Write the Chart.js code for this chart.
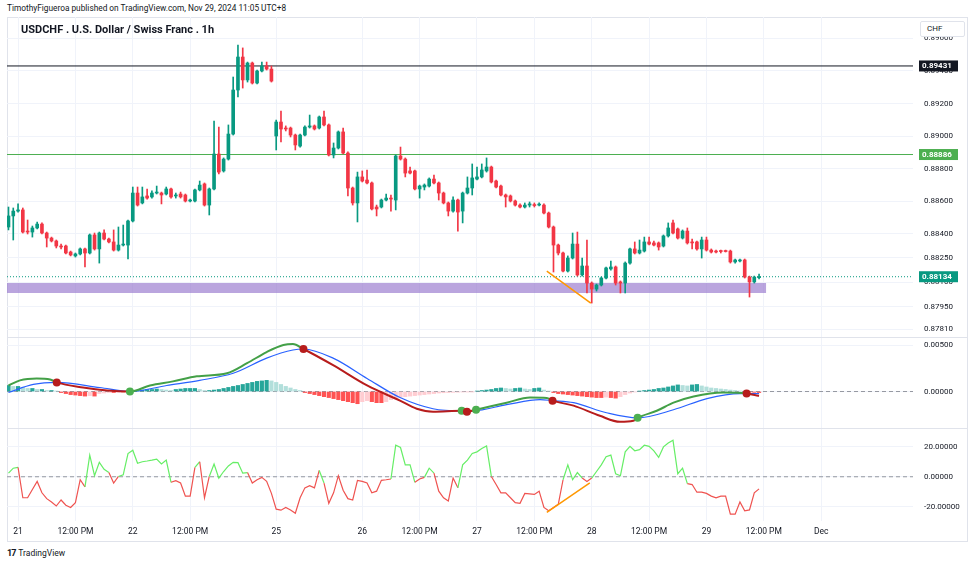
<!DOCTYPE html>
<html>
<head>
<meta charset="utf-8">
<script src="https://cdn.jsdelivr.net/npm/chart.js@4.4.0/dist/chart.umd.min.js"></script>
<style>
  body { margin: 0; background: #fff; width: 975px; height: 566px; position: relative; overflow: hidden;
         font-family: Roboto, "Noto Sans", sans-serif; color: #131722; }
  #pub { position: absolute; left: 7px; top: 3px; font-size: 8.3px; }
  #frame { position: absolute; left: 7px; top: 17px; width: 961px; height: 525px; border: 1px solid #e0e3eb; box-sizing: border-box; }
  .pane { position: absolute; left: 7px; width: 961px; }
  .sep { position: absolute; left: 7px; width: 961px; height: 1px; background: #e0e3eb; }
  #title { position: absolute; left: 21px; top: 23px; font-size: 11px; font-weight: bold; }
  #chf { position: absolute; left: 920px; top: 21px; width: 45px; height: 16px; border: 1px solid #e0e3eb; border-radius: 2px;
         background: #fff; box-sizing: border-box; font-size: 8px; line-height: 14px; padding-left: 6px; }
  #tv { position: absolute; left: 7px; top: 548px; font-size: 8.5px; }
  #tv b { font-size: 9px; letter-spacing: -1px; margin-right: 3px; }
</style>
</head>
<body>
<div id="pub">TimothyFigueroa published on TradingView.com, Nov 29, 2024 11:05 UTC+8</div>
<div id="frame"></div>
<div class="pane" style="top:17px;height:320px"><canvas id="main"></canvas></div>
<div class="pane" style="top:337px;height:91px"><canvas id="macd"></canvas></div>
<div class="pane" style="top:428px;height:113px"><canvas id="osc"></canvas></div>
<div class="sep" style="top:337px"></div>
<div class="sep" style="top:428px"></div>
<div id="title">USDCHF . U.S. Dollar / Swiss Franc . 1h</div>
<div id="chf">CHF</div>
<div id="tv"><b>17</b>TradingView</div>
<script>
// bar index 0 = Nov 20 22:00 (UTC+8), 1h bars, weekend skipped
const timeTickIdx = [2, 14, 26, 38, 56, 74, 86, 98, 110, 122, 134, 146, 158, 170];
const timeTickText = ['21', '12:00 PM', '22', '12:00 PM', '25', '26', '12:00 PM', '27', '12:00 PM', '28', '12:00 PM', '29', '12:00 PM', 'Dec'];
const priceTicks = [0.8781, 0.8795, 0.881, 0.8825, 0.884, 0.886, 0.888, 0.89, 0.892, 0.894, 0.896];
const macdTicks = [0, 0.005];
const oscTicks = [-20, 0, 20];

const opens = [0.88440,0.88508,0.88538,0.88545,0.88415,0.88409,0.88434,0.88458,0.88403,0.88372,
  0.88354,0.88323,0.88323,0.88286,0.88262,0.88274,0.88305,0.88280,0.88391,0.88305,
  0.88403,0.88366,0.88348,0.88298,0.88329,0.88329,0.88477,0.88649,0.88588,0.88631,
  0.88625,0.88649,0.88649,0.88643,0.88674,0.88631,0.88643,0.88637,0.88600,0.88600,
  0.88668,0.88705,0.88575,0.88674,0.88889,0.88785,0.88858,0.89012,0.89283,0.89486,
  0.89345,0.89449,0.89326,0.89400,0.89431,0.89412,
  0.89000,0.89086,0.89049,0.89049,0.89006,0.88938,0.89006,0.89055,0.89062,0.89049,
  0.89117,0.89068,0.88883,0.88926,0.89025,0.88895,0.88680,0.88588,0.88748,0.88729,
  0.88711,0.88563,0.88563,0.88606,0.88618,0.88606,0.88877,0.88858,0.88785,0.88785,
  0.88674,0.88686,0.88692,0.88735,0.88711,0.88649,0.88588,0.88538,0.88606,0.88538,
  0.88649,0.88680,0.88735,0.88748,0.88785,0.88809,0.88723,0.88692,0.88637,0.88631,
  0.88600,0.88575,0.88563,0.88575,0.88575,0.88575,0.88575,0.88526,0.88440,0.88329,
  0.88280,0.88169,0.88249,0.88335,0.88145,0.88200,0.88095,0.88058,0.88083,0.88126,
  0.88182,0.88194,0.88102,0.88095,0.88218,0.88305,0.88280,0.88292,0.88348,0.88342,
  0.88342,0.88323,0.88385,0.88465,0.88428,0.88372,0.88415,0.88348,0.88348,0.88305,
  0.88360,0.88298,0.88292,0.88292,0.88292,0.88292,0.88225,0.88231,0.88237,0.88132,
  0.88102,0.88128];
const highs = [0.88563,0.88557,0.88582,0.88557,0.88483,0.88446,0.88471,0.88465,0.88409,0.88378,
  0.88360,0.88335,0.88329,0.88292,0.88280,0.88311,0.88311,0.88397,0.88403,0.88409,
  0.88422,0.88372,0.88422,0.88440,0.88452,0.88483,0.88686,0.88686,0.88686,0.88674,
  0.88662,0.88692,0.88655,0.88686,0.88680,0.88649,0.88655,0.88643,0.88612,0.88674,
  0.88723,0.88711,0.88680,0.89092,0.89055,0.88865,0.89068,0.89363,0.89560,0.89542,
  0.89455,0.89455,0.89406,0.89455,0.89455,0.89431,
  0.89098,0.89154,0.89062,0.89055,0.89012,0.89012,0.89062,0.89129,0.89068,0.89123,
  0.89154,0.89074,0.88957,0.89031,0.89049,0.88902,0.88686,0.88778,0.88785,0.88791,
  0.88717,0.88575,0.88612,0.88643,0.88637,0.88883,0.88932,0.88865,0.88809,0.88791,
  0.88698,0.88705,0.88742,0.88760,0.88717,0.88655,0.88594,0.88625,0.88612,0.88655,
  0.88748,0.88828,0.88809,0.88828,0.88865,0.88815,0.88729,0.88698,0.88643,0.88637,
  0.88606,0.88582,0.88588,0.88594,0.88588,0.88588,0.88582,0.88532,0.88446,0.88335,
  0.88286,0.88262,0.88403,0.88409,0.88249,0.88360,0.88102,0.88089,0.88132,0.88194,
  0.88231,0.88200,0.88108,0.88225,0.88311,0.88348,0.88360,0.88378,0.88378,0.88354,
  0.88348,0.88391,0.88465,0.88483,0.88434,0.88422,0.88434,0.88366,0.88354,0.88378,
  0.88378,0.88305,0.88298,0.88298,0.88298,0.88298,0.88243,0.88243,0.88243,0.88138,
  0.88138,0.88151];
const lows = [0.88422,0.88360,0.88532,0.88403,0.88397,0.88378,0.88428,0.88397,0.88317,0.88348,
  0.88311,0.88305,0.88274,0.88262,0.88255,0.88268,0.88194,0.88274,0.88298,0.88218,
  0.88360,0.88342,0.88292,0.88292,0.88323,0.88243,0.88471,0.88569,0.88582,0.88612,
  0.88618,0.88643,0.88582,0.88637,0.88618,0.88618,0.88618,0.88594,0.88594,0.88594,
  0.88662,0.88569,0.88514,0.88668,0.88766,0.88778,0.88852,0.89006,0.89240,0.89295,
  0.89332,0.89320,0.89320,0.89394,0.89406,0.89332,
  0.88914,0.88963,0.89031,0.88994,0.88914,0.88932,0.89000,0.89049,0.89037,0.89043,
  0.89062,0.88877,0.88865,0.88920,0.88889,0.88631,0.88575,0.88471,0.88717,0.88705,
  0.88545,0.88508,0.88557,0.88600,0.88538,0.88545,0.88852,0.88748,0.88766,0.88668,
  0.88618,0.88668,0.88686,0.88705,0.88606,0.88582,0.88508,0.88532,0.88415,0.88465,
  0.88643,0.88637,0.88729,0.88742,0.88778,0.88711,0.88680,0.88631,0.88563,0.88594,
  0.88569,0.88557,0.88557,0.88563,0.88563,0.88569,0.88520,0.88434,0.88163,0.88268,
  0.88163,0.88163,0.88243,0.88138,0.88138,0.88034,0.87972,0.88046,0.88077,0.88120,
  0.88175,0.88083,0.88034,0.88034,0.88212,0.88274,0.88274,0.88286,0.88329,0.88323,
  0.88298,0.88317,0.88378,0.88397,0.88366,0.88366,0.88335,0.88305,0.88298,0.88249,
  0.88292,0.88280,0.88280,0.88280,0.88286,0.88218,0.88218,0.88225,0.88126,0.88009,
  0.88095,0.88120];
const closes = [0.88508,0.88538,0.88545,0.88409,0.88409,0.88434,0.88458,0.88403,0.88372,0.88354,
  0.88323,0.88317,0.88280,0.88268,0.88274,0.88305,0.88280,0.88391,0.88305,0.88403,
  0.88366,0.88348,0.88298,0.88329,0.88335,0.88477,0.88649,0.88575,0.88625,0.88618,
  0.88649,0.88655,0.88637,0.88674,0.88625,0.88637,0.88625,0.88600,0.88606,0.88668,
  0.88698,0.88575,0.88674,0.88889,0.88778,0.88858,0.89012,0.89283,0.89486,0.89345,
  0.89449,0.89326,0.89400,0.89431,0.89412,0.89338,
  0.89086,0.89043,0.89043,0.89006,0.88945,0.89006,0.89055,0.89062,0.89043,0.89117,
  0.89068,0.88883,0.88926,0.89025,0.88895,0.88680,0.88588,0.88748,0.88723,0.88711,
  0.88551,0.88551,0.88606,0.88618,0.88612,0.88877,0.88858,0.88772,0.88772,0.88674,
  0.88692,0.88698,0.88735,0.88711,0.88649,0.88588,0.88538,0.88606,0.88532,0.88649,
  0.88680,0.88742,0.88748,0.88791,0.88809,0.88717,0.88686,0.88637,0.88625,0.88600,
  0.88575,0.88563,0.88575,0.88582,0.88572,0.88578,0.88526,0.88440,0.88329,0.88280,
  0.88169,0.88249,0.88335,0.88145,0.88200,0.88095,0.88058,0.88083,0.88126,0.88188,
  0.88194,0.88095,0.88095,0.88218,0.88305,0.88280,0.88298,0.88348,0.88335,0.88329,
  0.88317,0.88385,0.88434,0.88403,0.88372,0.88415,0.88342,0.88342,0.88305,0.88360,
  0.88298,0.88286,0.88286,0.88289,0.88289,0.88225,0.88237,0.88237,0.88132,0.88102,
  0.88132,0.88134];

// horizontal levels and drawings on the price pane
const levelPrices = [0.89431, 0.88886, 0.88134];
const zoneTop = 0.88095, zoneBottom = 0.88034, zoneEnd = 158.5;
const priceTrendX = [112.6, 121.8];
const priceTrendY = [0.88169, 0.87972];

// MACD pane
const macdX = [0, 2.4, 5.9, 8.7, 10.1, 15.6, 20.6, 25.4, 29.6, 34.4, 39.4, 45.7, 49.9, 54, 57.5, 59.5, 61.7, 67.9, 75, 81.9,
  85.4, 88.8, 94.8, 95.9, 97.8, 104.2, 109.1, 112.6, 113.8, 118.2, 123.7, 127.9, 130.7, 131.6, 135.6, 139.1, 143.3, 149.5, 154.4, 156.5, 157];
const macdY = [0.00065, 0.0012, 0.00141, 0.0013, 0.00098, 0.00043, 0.00011, 0, 0.00065, 0.00109, 0.00163, 0.00196, 0.00304, 0.00424, 0.005, 0.00511, 0.00457, 0.00283, 0.00065, -0.00098,
  -0.00185, -0.00217, -0.00207, -0.00217, -0.00196, -0.0012, -0.00065, -0.0007, -0.00098, -0.00152, -0.00261, -0.00326, -0.00315, -0.00283, -0.00207, -0.0012, -0.00054, -0.00011, -0.00022, -0.00043, -0.00045];
const signalX = [0, 5.2, 10.1, 19.1, 25.4, 33.1, 40, 47, 54, 59.5, 61.7, 67.9, 75, 81.9, 88.8, 94.8, 97.2, 104.2, 111.2, 113.8, 118.2, 125.1, 131.6, 139.1, 146.1, 153, 157];
const signalY = [-0.00011, 0.00076, 0.00098, 0.00043, 0, 0.00065, 0.0012, 0.00196, 0.00359, 0.00446, 0.00457, 0.00359, 0.00141, -0.00065, -0.00185, -0.00207, -0.00207, -0.00141, -0.00087, -0.00098, -0.0012, -0.00228, -0.00283, -0.00196, -0.00076, -0.00022, -0.00022];
const crossX = [10.1, 25.4, 61.7, 94.8, 95.9, 97.8, 113.8, 131.6, 154.4];
const crossY = [0.00098, 0, 0.00457, -0.00207, -0.00217, -0.00196, -0.00098, -0.00283, -0.00022];
const crossUp = [false, true, false, true, false, true, false, true, false];
const histVals = [0.00065,0.00055,0.00055,0.00044,0.00033,0.00033,0.00022,0.00022,0.00011,0.00011,0.00005,
  -0.00011,-0.00022,-0.00033,-0.00038,-0.00044,-0.00049,-0.00044,-0.00049,-0.00022,-0.00016,-0.00011,-0.00011,-0.00005,-0.00005,-0.00003,
  0.00005,0.00011,0.00016,0.00022,0.00022,0.00027,0.00022,0.00016,0.00011,0.00022,0.00027,0.00033,0.00033,0.00033,0.00022,0.00011,0.00011,0.00016,0.00022,0.00033,
  0.00044,0.00055,0.00065,0.00076,0.00087,0.00098,0.00109,0.00114,0.0012,0.00114,0.00098,0.00076,0.00055,0.00038,0.00022,0.00011,
  -0.00011,-0.00022,-0.00033,-0.00044,-0.00055,-0.00065,-0.00076,-0.00087,-0.00098,-0.00109,-0.0012,-0.00131,
  -0.00109,-0.00098,-0.00109,-0.0012,-0.0012,-0.00109,-0.00087,-0.00071,-0.0006,-0.00055,
  -0.00049,-0.00044,-0.00038,-0.00033,-0.00027,-0.00022,-0.00016,-0.00013,-0.00011,-0.00009,-0.00007,-0.00004,-0.00003,-0.00002,
  0.00005,0.00011,0.00016,0.00022,0.00033,0.00038,0.00033,0.00027,0.00033,0.00038,0.00027,0.00022,0.00033,0.00038,0.00016,0.00005,
  -0.00011,-0.00022,-0.00027,-0.00033,-0.00038,-0.00044,-0.00049,-0.00055,-0.0006,-0.00065,-0.00065,-0.0006,-0.00065,-0.00071,-0.00055,-0.00033,-0.00016,-0.00005,
  0.00005,0.00011,0.00016,0.00022,0.00033,0.00038,0.00049,0.0006,0.00071,0.00065,0.0006,0.00071,0.00076,0.0006,0.00049,0.00038,0.00033,0.00027,0.00022,0.00016,
  0.00011,0.00005,0.00002,-0.00005,-0.00009,-0.00011];

// oscillator pane
const oscVals = [2.4,5.7,6.3,-14,-14,-8.5,-3.1,-10.7,-14.6,-16.8,
  -19.5,-15.5,-19,-20.5,-17.3,-2,-6.8,14.4,0.7,9.6,
  5,2.8,-4.2,0.2,1.3,15.5,17.7,9,10,10.5,
  11.1,11.8,8.5,11.1,-3.7,-2.6,-4.2,-12.9,-12.9,6.3,
  10,-14,0.2,8.5,-0.9,3.5,7.2,9.6,9.4,2.4,
  2.8,-4.2,-2,-0.4,-3.1,-11.1,-21.6,-22.3,-20.5,-22.1,
  -24.3,-14,-7.4,-5.9,-7.4,4.2,-4.2,-17.7,-10.7,0.7,
  -9,-14.6,-15.5,-2.4,-3.1,-4.2,-10.7,-9.6,-2.4,-2,
  -1.5,21,19.5,7.9,7.9,-3.7,-1.5,-0.4,5.7,2.4,
  -9.6,-14,-16.2,-0.9,-7.4,7.9,11.1,15.5,16.6,18.8,
  20.5,0.2,-5.2,-10.7,-10.7,-14,-17.3,-17.7,-11.1,-11.4,
  -11.8,-9.6,-20.5,-22.7,-20.5,-18.4,-2,7.9,-2,2.8,
  -0.9,-3.1,-0.9,3.5,7.9,13.3,14.4,2,0.7,16.6,
  20.3,17.3,18.1,21,20.3,17.3,12.9,19.9,22.5,24.3,
  2,5.7,-4.6,-5.2,-10.3,-10.3,-11.1,-12.9,-14,-12.9,
  -12.9,-24.9,-24.9,-16.8,-22.7,-22.1,-10.7,-8.1];
const oscTrendX = [112.6, 121.6];
const oscTrendY = [-23.8, -4.1];

const X_MIN = -0.31, X_MAX = 189.2;
const FONT = 'Roboto, "Noto Sans", sans-serif';
const UP = '#089981', DOWN = '#f23645';
const GRID = '#f0f3fa';
Chart.defaults.font.family = FONT;

function xScale(showLabels) {
  return {
    type: 'linear', min: X_MIN, max: X_MAX, offset: false,
    grid: { color: GRID, drawTicks: false, offset: false },
    border: { display: false },
    ticks: { display: showLabels, padding: 6, color: '#131722', font: { size: 8.5 }, maxRotation: 0, autoSkip: false,
             callback: (v, i) => timeTickText[i] },
    afterBuildTicks: s => { s.ticks = timeTickIdx.map(v => ({ value: v })); },
    afterFit: s => { s.height = showLabels ? 20 : 0; s.paddingLeft = 0; s.paddingRight = 0; }
  };
}

function yScale(min, max, ticks) {
  return {
    position: 'right', min: min, max: max,
    grid: { color: GRID, drawTicks: false },
    border: { display: false },
    ticks: { padding: 11, color: '#131722', font: { size: 8 }, callback: v => v.toFixed(5) },
    afterBuildTicks: s => { s.ticks = ticks.map(v => ({ value: v })); },
    // pane must fill its whole box, no room kept for the end labels
    afterFit: s => { s.width = 55; s.paddingTop = 0; s.paddingBottom = 0; }
  };
}

function hLine(v, x0, x1) {
  return [{ x: x0, y: v }, { x: x1, y: v }];
}

const baseOptions = {
  responsive: true, maintainAspectRatio: false, animation: false,
  layout: { padding: 0, autoPadding: false },
  plugins: { legend: { display: false }, tooltip: { enabled: false } }
};

// price tags on the right axis
const levelColors = ['#131722', '#4caf50', '#089981'];
const tagPlugin = {
  id: 'tags',
  afterDraw(chart) {
    const ctx = chart.ctx, y = chart.scales.y, a = chart.chartArea;
    ctx.save();
    levelPrices.forEach((p, k) => {
      const py = y.getPixelForValue(p);
      ctx.fillStyle = levelColors[k];
      ctx.fillRect(a.right + 6, py - 5.5, 39, 11);
      ctx.fillStyle = '#fff';
      ctx.font = 'bold 8px ' + FONT;
      ctx.textBaseline = 'middle';
      ctx.fillText(p.toFixed(5), a.right + 9, py + 0.5);
    });
    ctx.restore();
  }
};

const candleColors = closes.map((c, i) => c >= opens[i] ? UP : DOWN);

new Chart(document.getElementById('main'), {
  type: 'bar',
  data: {
    datasets: [
      { type: 'line', data: hLine(zoneTop, X_MIN, zoneEnd), borderWidth: 0, pointRadius: 0,
        fill: { value: zoneBottom }, backgroundColor: 'rgba(149,117,205,0.65)', order: 10 },
      { type: 'line', data: hLine(levelPrices[0], X_MIN, X_MAX), borderColor: '#131722', borderWidth: 1, pointRadius: 0, order: 5 },
      { type: 'line', data: hLine(levelPrices[1], X_MIN, X_MAX), borderColor: '#4caf50', borderWidth: 1, pointRadius: 0, order: 5 },
      { type: 'line', data: hLine(levelPrices[2], X_MIN, X_MAX), borderColor: '#089981', borderWidth: 1, borderDash: [1, 2], pointRadius: 0, order: 5 },
      { data: highs.map((h, i) => ({ x: i, y: [lows[i], h] })), backgroundColor: candleColors,
        barThickness: 1, grouped: false, order: 2 },
      { data: opens.map((o, i) => ({ x: i, y: [o, closes[i]] })), backgroundColor: candleColors,
        barThickness: 3, minBarLength: 1, grouped: false, order: 1 },
      { type: 'line', data: priceTrendX.map((x, i) => ({ x: x, y: priceTrendY[i] })), borderColor: '#ff9800',
        borderWidth: 1.5, pointRadius: 0, order: 0 }
    ]
  },
  options: Object.assign({}, baseOptions, {
    scales: { x: xScale(false), y: yScale(0.877631, 0.897323, priceTicks) }
  }),
  plugins: [tagPlugin]
});

// MACD
function macdColorAt(x) {
  let up = true;
  for (let k = 0; k < crossX.length; k++) if (crossX[k] <= x) up = crossUp[k];
  return up ? '#43a047' : '#b71c1c';
}
const histColors = histVals.map((v, i) => {
  const prev = i > 0 ? histVals[i - 1] : 0;
  if (v >= 0) return v >= prev ? '#26a69a' : '#b2dfdb';
  return v <= prev ? '#ff5252' : '#ffcdd2';
});

new Chart(document.getElementById('macd'), {
  type: 'bar',
  data: {
    datasets: [
      { type: 'line', data: hLine(0, X_MIN, X_MAX), borderColor: '#9598a1', borderWidth: 1, borderDash: [4, 3], pointRadius: 0, order: 5 },
      { data: histVals.map((v, i) => ({ x: i, y: v })), backgroundColor: histColors, barThickness: 3.5, order: 4 },
      { type: 'line', data: signalX.map((x, i) => ({ x: x, y: signalY[i] })), borderColor: '#2962ff', borderWidth: 1.2,
        pointRadius: 0, cubicInterpolationMode: 'monotone', order: 3 },
      { type: 'line', data: macdX.map((x, i) => ({ x: x, y: macdY[i] })), borderWidth: 2, pointRadius: 0,
        cubicInterpolationMode: 'monotone', segment: { borderColor: c => macdColorAt((c.p0.parsed.x + c.p1.parsed.x) / 2) }, order: 2 },
      { type: 'line', data: crossX.map((x, i) => ({ x: x, y: crossY[i] })), showLine: false, pointRadius: 4, pointBorderWidth: 0,
        pointBackgroundColor: crossUp.map(u => u ? '#4caf50' : '#b71c1c'), order: 1 }
    ]
  },
  options: Object.assign({}, baseOptions, {
    scales: { x: xScale(false), y: yScale(-0.00392, 0.00586, macdTicks) }
  })
});

// oscillator
new Chart(document.getElementById('osc'), {
  type: 'line',
  data: {
    datasets: [
      { data: hLine(0, X_MIN, X_MAX), borderColor: '#9598a1', borderWidth: 1, borderDash: [4, 3], pointRadius: 0, order: 5 },
      { data: oscVals.map((v, i) => ({ x: i, y: v })), borderWidth: 1.2, pointRadius: 0, order: 2,
        segment: { borderColor: c => (c.p0.parsed.y + c.p1.parsed.y) / 2 >= 0 ? '#66ee66' : '#ef5350' } },
      { data: oscTrendX.map((x, i) => ({ x: x, y: oscTrendY[i] })), borderColor: '#ff9800', borderWidth: 1.5, pointRadius: 0, order: 1 }
    ]
  },
  options: Object.assign({}, baseOptions, {
    scales: { x: xScale(true), y: yScale(-29.5, 32.5, oscTicks) }
  })
});
</script>
</body>
</html>
